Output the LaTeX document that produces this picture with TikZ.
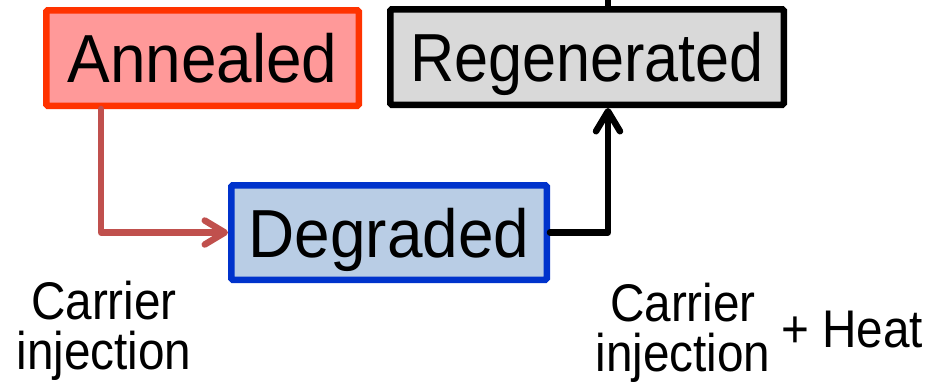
\documentclass[tikz,border=0pt]{standalone}
\usepackage{fontspec}
\setmainfont{Liberation Sans}[FakeStretch=0.9]
\newfontfamily\widefont{Liberation Sans}[FakeStretch=0.94]
\usepackage{tikz}
\usetikzlibrary{arrows.meta}

\definecolor{annfill}{HTML}{FF9999}
\definecolor{annline}{HTML}{FF3300}
\definecolor{regfill}{HTML}{D9D9D9}
\definecolor{degfill}{HTML}{B9CDE5}
\definecolor{degline}{HTML}{0033CC}
\definecolor{arrred}{HTML}{C0504D}

\begin{document}
\begin{tikzpicture}[x=1pt, y=-1pt,
  box/.style={draw, line width=6.5pt, rounded corners=1.5pt, inner sep=0pt,
    text height=49pt, text depth=0pt, font=\fontsize{68}{80}\selectfont},
  lbl/.style={align=center, inner sep=0pt, font=\fontsize{53}{50}\selectfont},
  link/.style={->, line width=6.5pt, line cap=round, line join=round},
  >={Straight Barb[length=20pt, width=24pt, round]}]
 \useasboundingbox (0,0) rectangle (929,386);

 % the three states
 \node[box, draw=annline, fill=annfill, minimum width=312.5pt, minimum height=95.5pt]
   (annealed) at (202.5,58) {\widefont Annealed};
 \node[box, draw=black, fill=regfill, minimum width=393.5pt, minimum height=95.5pt]
   (regenerated) at (587,57) {Regenerated};
 \node[box, draw=degline, fill=degfill, minimum width=315.5pt, minimum height=94.5pt]
   (degraded) at (389,232.5) {\widefont Degraded};

 % transitions
 \draw[link, draw=arrred] ([xshift=58pt]annealed.south west) |- (degraded.west);
 \draw[link] (degraded.east) -| ([xshift=21pt]regenerated.south);
 \draw[line width=6pt] ([xshift=21pt]regenerated.north) -- ++(0,-10);

 % conditions
 \node[lbl, anchor=north] (inject1) at (104,281) {Carrier\\injection};
 \node[lbl, anchor=north] (inject2) at (683,283) {Carrier\\injection};
 \node[lbl, anchor=base] (heat) at (852,347) {+ Heat};
\end{tikzpicture}
\end{document}
